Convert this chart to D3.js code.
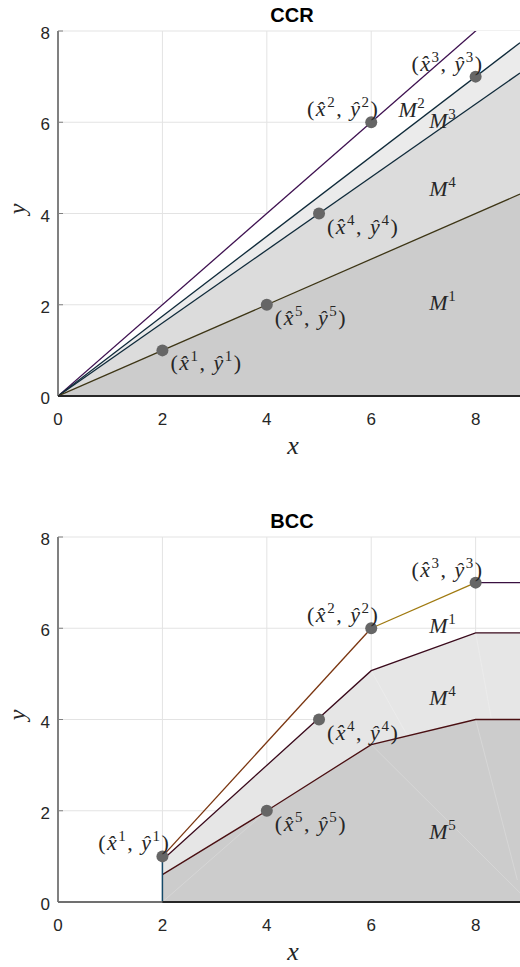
<!DOCTYPE html>
<html>
<head>
<meta charset="utf-8">
<script src="https://cdn.jsdelivr.net/npm/d3@7"></script>
<style>
body { margin: 0; background: #fff; }
text { fill: #262626; }
</style>
</head>
<body>
<div id="chart"></div>
<script>
// observed DMUs (x^j, y^j), j = 1..5
var dmuIds = [1, 2, 3, 4, 5];
var dmuX = [2, 6, 8, 5, 4];
var dmuY = [1, 6, 7, 4, 2];
var xTicks = [0, 2, 4, 6, 8];
var yTicks = [0, 2, 4, 6, 8];
var xMax = 8.85;

// CCR: rays from the origin, listed top to bottom
var ccrSlopes = [1, 0.875, 0.8, 0.5];
var ccrLineColors = ["#3e1150", "#0f2a3a", "#0f2a3a", "#3d3515"];
var ccrFills = ["#ffffff", "#ebebeb", "#dcdcdc", "#cccccc"]; // below each ray
var ccrRegionNames = [2, 3, 4, 1];
var ccrRegionX = [6.78, 7.37, 7.37, 7.37];
var ccrRegionY = [6.3, 6.05, 4.55, 2.05];
var ccrLabelSide = ["br", "al", "al", "br", "br"];

// BCC: frontier and lower boundaries
var bccFrontX = [2, 6, 8, 8.85];
var bccFrontY = [1, 6, 7, 7];
var bccFrontColors = ["#7a3510", "#a07a10", "#3a1040"];
var bccM4X = [2, 6, 8, 8.85];
var bccM4Y = [0.92, 5.07, 5.9, 5.9];
var bccM5X = [2, 4, 6, 8, 8.85];
var bccM5Y = [0.6, 2, 3.45, 4, 4];
var bccSeams = [
    [[6, 3.45], [8.85, 0.2]],
    [[8, 4], [8.8, 0.48]],
    [[6, 5.07], [6.7, 3.63]],
    [[8, 5.9], [8.3, 4.02]],
    [[2, 0], [4, 2]]
];
var bccRegionNames = [1, 4, 5];
var bccRegionX = [7.37, 7.37, 7.37];
var bccRegionY = [6.07, 4.5, 1.55];
var bccLabelSide = ["al", "al", "al", "br", "br"];

var svg = d3.select("#chart")
    .append("svg")
    .attr("width", 520)
    .attr("height", 967);

var xScale = d3.scaleLinear().domain([0, xMax]).range([58, 520]);

function zip(xs, ys) {
    return xs.map(function(x, i) { return [x, ys[i]]; });
}

function mathLabel(g, x, y, anchor, name, sup, hat) {
    var t = g.append("text")
        .attr("x", x)
        .attr("y", y)
        .attr("text-anchor", anchor)
        .style("font-family", "'Liberation Serif', serif")
        .style("font-size", "22px")
        .style("letter-spacing", hat ? "1.5px" : "0.5px");
    if (hat) {
        t.append("tspan").text("(");
        t.append("tspan").style("font-style", "italic").text("x\u0302");
        t.append("tspan").attr("dy", -9).style("font-size", "15px").text(sup);
        t.append("tspan").attr("dy", 9).text(", ");
        t.append("tspan").style("font-style", "italic").text("y\u0302");
        t.append("tspan").attr("dy", -9).style("font-size", "15px").text(sup);
        t.append("tspan").attr("dy", 9).text(")");
    } else {
        t.append("tspan").style("font-style", "italic").text(name);
        t.append("tspan").attr("dy", -9).style("font-size", "15px").text(sup);
    }
    return t;
}

function drawFrame(g, yScale, title, clipId) {
    // grid
    g.selectAll(".gx").data(xTicks.filter(function(d) { return d > 0; })).enter()
        .append("line")
        .attr("x1", function(d) { return xScale(d); })
        .attr("x2", function(d) { return xScale(d); })
        .attr("y1", yScale(0)).attr("y2", yScale(8))
        .style("stroke", "#e3e3e3").style("stroke-width", 1);
    g.selectAll(".gy").data(yTicks.filter(function(d) { return d > 0; })).enter()
        .append("line")
        .attr("x1", xScale(0)).attr("x2", 520)
        .attr("y1", function(d) { return yScale(d); })
        .attr("y2", function(d) { return yScale(d); })
        .style("stroke", "#e3e3e3").style("stroke-width", 1);

    g.append("clipPath").attr("id", clipId)
        .append("rect")
        .attr("x", xScale(0)).attr("y", yScale(8))
        .attr("width", 520 - xScale(0)).attr("height", yScale(0) - yScale(8));

    // tick labels
    g.selectAll(".xt").data(xTicks).enter().append("text")
        .attr("x", function(d) { return xScale(d); })
        .attr("y", yScale(0) + 29)
        .attr("text-anchor", "middle")
        .style("font-family", "'Liberation Sans', Arial, sans-serif")
        .style("font-size", "17px")
        .text(function(d) { return d; });
    g.selectAll(".yt").data(yTicks).enter().append("text")
        .attr("x", xScale(0) - 8)
        .attr("y", function(d) { return yScale(d) + 8; })
        .attr("text-anchor", "end")
        .style("font-family", "'Liberation Sans', Arial, sans-serif")
        .style("font-size", "17px")
        .text(function(d) { return d; });

    g.append("text")
        .attr("x", 292).attr("y", yScale(8) - 9)
        .attr("text-anchor", "middle")
        .style("font-family", "'Liberation Sans', Arial, sans-serif")
        .style("font-size", "20px")
        .style("font-weight", "bold")
        .style("fill", "#000")
        .text(title);

    g.append("text")
        .attr("x", 293).attr("y", yScale(0) + 58)
        .attr("text-anchor", "middle")
        .style("font-family", "'Liberation Serif', serif")
        .style("font-style", "italic")
        .style("font-size", "26px")
        .text("x");
    g.append("text")
        .attr("transform", "translate(25," + yScale(4.1) + ") rotate(-90)")
        .attr("text-anchor", "middle")
        .style("font-family", "'Liberation Serif', serif")
        .style("font-style", "italic")
        .style("font-size", "24px")
        .text("y");
}

function drawAxes(g, yScale) {
    g.append("line")
        .attr("x1", xScale(0)).attr("x2", xScale(0))
        .attr("y1", yScale(0)).attr("y2", yScale(8))
        .style("stroke", "#808080").style("stroke-width", 2);
    g.selectAll(".ytk").data(yTicks).enter().append("line")
        .attr("x1", xScale(0)).attr("x2", xScale(0) + 5)
        .attr("y1", function(d) { return yScale(d); })
        .attr("y2", function(d) { return yScale(d); })
        .style("stroke", "#808080").style("stroke-width", 1);
    g.append("line")
        .attr("x1", xScale(0)).attr("x2", 520)
        .attr("y1", yScale(0)).attr("y2", yScale(0))
        .style("stroke", "#707070").style("stroke-width", 2);
}

function drawPoints(g, yScale, sides) {
    g.selectAll(".pt").data(dmuIds).enter().append("circle")
        .attr("cx", function(d, i) { return xScale(dmuX[i]); })
        .attr("cy", function(d, i) { return yScale(dmuY[i]); })
        .attr("r", 6)
        .style("fill", "#666666");
    dmuIds.forEach(function(id, i) {
        var px = xScale(dmuX[i]), py = yScale(dmuY[i]);
        if (sides[i] === "br") {
            mathLabel(g, px + 8, py + 20, "start", null, id, true);
        } else {
            mathLabel(g, px + 8, py - 6, "end", null, id, true);
        }
    });
}

// ---------- CCR ----------
var ccrY = d3.scaleLinear().domain([0, 8]).range([396, 31]);
var gTop = svg.append("g");
drawFrame(gTop, ccrY, "CCR", "clipTop");

var line = function(yScale) {
    return d3.line()
        .x(function(d) { return xScale(d[0]); })
        .y(function(d) { return yScale(d[1]); });
};

var topClip = gTop.append("g").attr("clip-path", "url(#clipTop)");
ccrSlopes.forEach(function(s, i) {
    var lower = i + 1 < ccrSlopes.length ? ccrSlopes[i + 1] : 0;
    topClip.append("path")
        .attr("d", line(ccrY)([[0, 0], [xMax, s * xMax], [xMax, lower * xMax]]) + "Z")
        .style("fill", ccrFills[i])
        .style("stroke", "none");
});
ccrSlopes.forEach(function(s, i) {
    topClip.append("path")
        .attr("d", line(ccrY)([[0, 0], [xMax, s * xMax]]))
        .style("fill", "none")
        .style("stroke", ccrLineColors[i])
        .style("stroke-width", 1.3);
});
drawAxes(gTop, ccrY);
gTop.append("line")
    .attr("x1", xScale(0)).attr("x2", 520)
    .attr("y1", ccrY(0)).attr("y2", ccrY(0))
    .style("stroke", "#262626").style("stroke-width", 2);

ccrRegionNames.forEach(function(n, i) {
    mathLabel(gTop, xScale(ccrRegionX[i]), ccrY(ccrRegionY[i]) + 8, "middle", "M", n, false);
});
drawPoints(gTop, ccrY, ccrLabelSide);

// ---------- BCC ----------
var bccY = d3.scaleLinear().domain([0, 8]).range([902, 537]);
var gBot = svg.append("g");
drawFrame(gBot, bccY, "BCC", "clipBot");
var botClip = gBot.append("g").attr("clip-path", "url(#clipBot)");

var m4Poly = zip(bccM4X, bccM4Y).concat(zip(bccM5X, bccM5Y).reverse());
var m5Poly = zip(bccM5X, bccM5Y).concat([[xMax, 0], [2, 0]]);
botClip.append("path")
    .attr("d", line(bccY)(m4Poly) + "Z")
    .style("fill", "#e6e6e6");
botClip.append("path")
    .attr("d", line(bccY)(m5Poly) + "Z")
    .style("fill", "#cccccc");
bccSeams.forEach(function(s) {
    botClip.append("path")
        .attr("d", line(bccY)(s))
        .style("fill", "none")
        .style("stroke", "#ffffff")
        .style("stroke-opacity", 0.3)
        .style("stroke-width", 0.7);
});

drawAxes(gBot, bccY);
gBot.append("line")
    .attr("x1", xScale(2)).attr("x2", 520)
    .attr("y1", bccY(0)).attr("y2", bccY(0))
    .style("stroke", "#262626").style("stroke-width", 2);

botClip.append("path")
    .attr("d", line(bccY)(zip(bccM5X, bccM5Y)))
    .style("fill", "none").style("stroke", "#4a0f12").style("stroke-width", 1.3);
botClip.append("path")
    .attr("d", line(bccY)(zip(bccM4X, bccM4Y)))
    .style("fill", "none").style("stroke", "#3a0a1c").style("stroke-width", 1.3);
botClip.append("path")
    .attr("d", line(bccY)([[2, 0], [bccFrontX[0], bccFrontY[0]]]))
    .style("fill", "none").style("stroke", "#154a6a").style("stroke-width", 1.5);
for (var i = 0; i < bccFrontX.length - 1; i++) {
    botClip.append("path")
        .attr("d", line(bccY)([[bccFrontX[i], bccFrontY[i]], [bccFrontX[i + 1], bccFrontY[i + 1]]]))
        .style("fill", "none").style("stroke", bccFrontColors[i]).style("stroke-width", 1.3);
}

bccRegionNames.forEach(function(n, i) {
    mathLabel(gBot, xScale(bccRegionX[i]), bccY(bccRegionY[i]) + 8, "middle", "M", n, false);
});
drawPoints(gBot, bccY, bccLabelSide);
</script>
</body>
</html>
